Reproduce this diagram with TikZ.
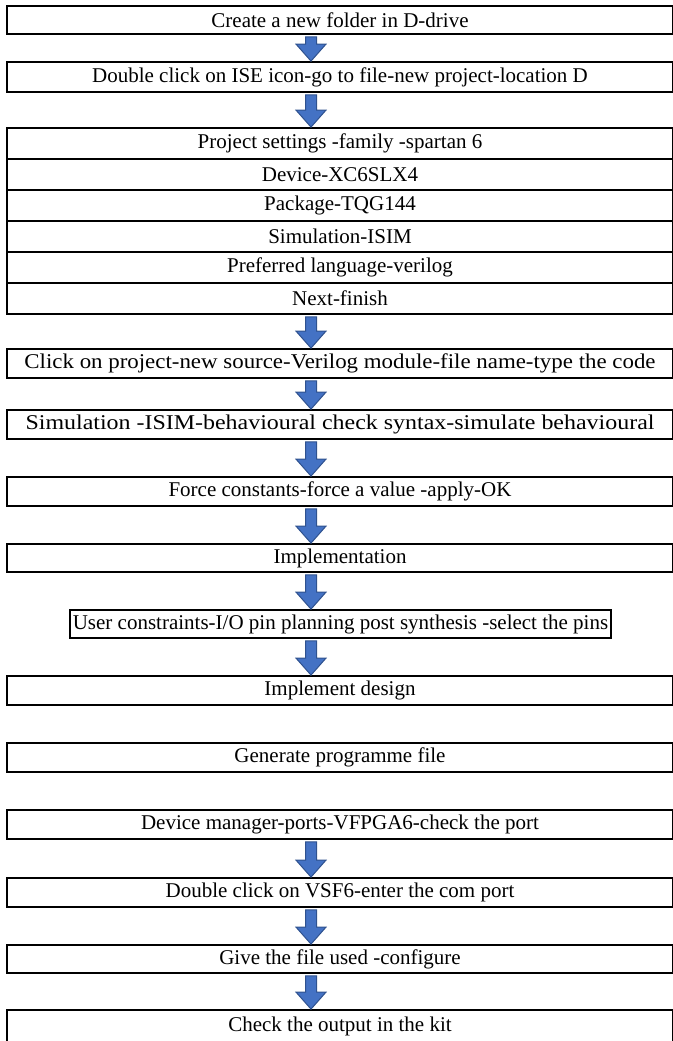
\documentclass[tikz,border=0pt]{standalone}
\usepackage{fontspec}
\setmainfont{Liberation Serif}
\usetikzlibrary{calc}
\definecolor{arrowfill}{HTML}{4472C4}
\definecolor{arrowline}{HTML}{2F528F}
% block arrow from the bottom of node #1 down to the top of node #2
\newcommand\flowarrow[2]{%
  \path[blockarrow]
    ($(#1.south-|ax)+(-5.5,2)$) -- ($(#1.south-|ax)+(5.5,2)$)
    -- ($(#2.north-|ax)+(5.5,-17)$) -- ($(#2.north-|ax)+(15,-17)$)
    -- (#2.north-|ax)
    -- ($(#2.north-|ax)+(-15,-17)$) -- ($(#2.north-|ax)+(-5.5,-17)$) -- cycle;}
\begin{document}
\begin{tikzpicture}[x=1pt,y=-1pt,
  box/.style={draw, line width=1.8pt, minimum width=666pt, inner sep=0pt,
    font=\fontsize{21}{24}\selectfont, anchor=center},
  blockarrow/.style={fill=arrowfill, draw=arrowline, line width=1pt, line join=miter}]
\useasboundingbox (0,0) rectangle (672,1041);
\coordinate (ax) at (311,0);

\node[box, minimum height=28pt] (b1) at (340,20) {Create a new folder in D-drive};
\node[box, minimum height=30pt] (b2) at (340,77) {Double click on ISE icon-go to file-new project-location D};

% project settings table
\node[box, minimum height=31pt] (s1) at (340,143.5) {Project settings -family -spartan 6};
\node[box, minimum height=31pt] (s2) at (340,174.5) {Device-XC6SLX4};
\node[box, minimum height=31pt] (s3) at (340,205.5) {Package-TQG144};
\node[box, minimum height=31pt] (s4) at (340,236.5) {Simulation-ISIM};
\node[box, minimum height=31pt] (s5) at (340,267.5) {Preferred language-verilog};
\node[box, minimum height=31pt] (s6) at (340,298.5) {Next-finish};

\node[box, minimum height=29pt] (c1) at (340,363.5) {\scalebox{1.09}[1]{Click on project-new source-Verilog module-file name-type the code}};
\node[box, minimum height=29pt] (c2) at (340,424.5) {\scalebox{1.14}[1]{Simulation -ISIM-behavioural check syntax-simulate behavioural}};
\node[box, minimum height=29pt] (c3) at (340,491.5) {Force constants-force a value -apply-OK};
\node[box, minimum height=28pt] (c4) at (340,558) {Implementation};
\node[box, minimum width=0pt, inner xsep=3pt, minimum height=28pt] (c5) at (340.5,624) {User constraints-I/O pin planning post synthesis -select the pins};
\node[box, minimum height=29pt] (c6) at (340,690.5) {Implement design};
\node[box, minimum height=29pt] (c7) at (340,757.5) {Generate programme file};
\node[box, minimum height=29pt] (c8) at (340,824.5) {Device manager-ports-VFPGA6-check the port};
\node[box, minimum height=29pt] (c9) at (340,892.5) {Double click on VSF6-enter the com port};
\node[box, minimum height=28pt] (c10) at (340,959) {Give the file used -configure};
\node[box, minimum height=33pt] (c11) at (340,1026.5) {Check the output in the kit};

\flowarrow{b1}{b2}
\flowarrow{b2}{s1}
\flowarrow{s6}{c1}
\flowarrow{c1}{c2}
\flowarrow{c2}{c3}
\flowarrow{c3}{c4}
\flowarrow{c4}{c5}
\flowarrow{c5}{c6}
\flowarrow{c8}{c9}
\flowarrow{c9}{c10}
\flowarrow{c10}{c11}
\end{tikzpicture}
\end{document}
